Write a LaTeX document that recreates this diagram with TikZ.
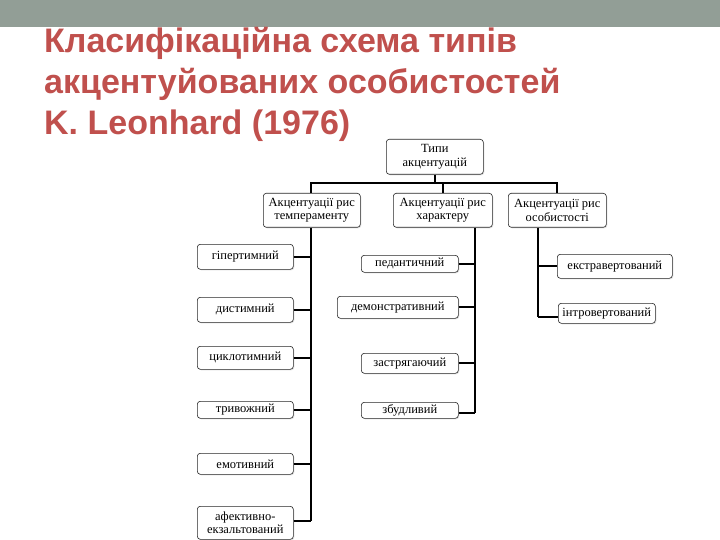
\documentclass[tikz,border=0pt]{standalone}
\usepackage{fontspec}
\usetikzlibrary{shadows}
\setmainfont{Liberation Serif}
\newfontfamily\titlefont{Liberation Sans}
\definecolor{band}{RGB}{146,158,150}
\definecolor{titlered}{RGB}{192,80,77}
\begin{document}
\begin{tikzpicture}[x=1pt,y=-1pt,
  box/.style={draw=black!85, line width=0.6pt, rounded corners=3pt, fill=white,
    drop shadow={shadow xshift=1pt, shadow yshift=-1pt, opacity=0.25},
    font=\fontsize{12.5}{13.5}\selectfont, inner sep=1pt, align=center, anchor=north west},
  conn/.style={line width=2.2pt, black},
  ttl/.style={anchor=base west, inner sep=0pt, text=titlered,
    font=\titlefont\bfseries\fontsize{34}{34}\selectfont}]
\useasboundingbox (0,0) rectangle (720,540);
\fill[band] (0,0) rectangle (720,27);
\node[ttl] (t1) at (44,53) {Класифікаційна схема типів};
\node[ttl] (t2) at (44,94) {акцентуйованих особистостей};
\node[ttl] (t3) at (44,135) {K. Leonhard (1976)};

% level 1
\node[box, minimum width=97pt, minimum height=35pt] (root) at (386,139) {Типи\\акцентуацій};
% level 2
\node[box, minimum width=97pt, minimum height=34pt] (temp) at (263,193) {Акцентуації рис\\темпераменту};
\node[box, minimum width=99pt, minimum height=34pt] (char) at (393,193) {Акцентуації рис\\характеру};
\node[box, minimum width=98pt, minimum height=34pt] (pers) at (508,193) {Акцентуації рис\\особистості};

% left column
\node[box, minimum width=96pt, minimum height=25pt] (l1) at (197,244) {гіпертимний};
\node[box, minimum width=96pt, minimum height=25pt] (l2) at (197,297) {дистимний};
\node[box, minimum width=96pt, minimum height=23pt] (l3) at (197,346) {циклотимний};
\node[box, minimum width=96pt, minimum height=17pt] (l4) at (197,401) {тривожний};
\node[box, minimum width=96pt, minimum height=21pt] (l5) at (197,453) {емотивний};
\node[box, minimum width=96pt, minimum height=33pt] (l6) at (197,506) {афективно-\\екзальтований};

% middle column
\node[box, minimum width=97pt, minimum height=17pt] (m1) at (361,255) {педантичний};
\node[box, minimum width=121pt, minimum height=22pt] (m2) at (337,296) {демонстративний};
\node[box, minimum width=97pt, minimum height=20pt] (m3) at (361,353) {застрягаючий};
\node[box, minimum width=97pt, minimum height=16pt] (m4) at (361,402) {збудливий};

% right column
\node[box, minimum width=115pt, minimum height=24pt] (r1) at (557,254) {екстравертований};
\node[box, minimum width=97pt, minimum height=20pt] (r2) at (558,303) {інтровертований};

% trunk coordinates
\coordinate (hl) at (311,183);
\coordinate (hr) at (557,183);
\coordinate (lt) at (311,0);
\coordinate (mt) at (475,0);
\coordinate (rt) at (538,0);

% top bus
\draw[conn] (root.south) -- (root.south |- hl);
\draw[conn, line cap=rect] (hl) -- (hr);
\draw[conn] (hl) -- (temp.north -| hl);
\draw[conn] (char.north) -- (char.north |- hl);
\draw[conn] (hr) -- (pers.north -| hr);

% left trunk
\draw[conn] (temp.south -| lt) -- ([yshift=2pt]l6.east -| lt);
\foreach \n in {l1,l2,l3,l4,l5} \draw[conn] (\n.east) -- (\n.east -| lt);
\draw[conn] ([yshift=2pt]l6.east) -- ([yshift=2pt]l6.east -| lt);

% middle trunk
\draw[conn] (char.south -| mt) -- ([yshift=-3pt]m4.east -| mt);
\foreach \n in {m1,m2,m3} \draw[conn] (\n.east) -- (\n.east -| mt);
\draw[conn] ([yshift=-3pt]m4.east) -- ([yshift=-3pt]m4.east -| mt);

% right trunk
\draw[conn] (pers.south -| rt) -- ([yshift=-4pt]r2.west -| rt);
\draw[conn] (r1.west) -- (r1.west -| rt);
\draw[conn] ([yshift=-4pt]r2.west) -- ([yshift=-4pt]r2.west -| rt);
\end{tikzpicture}
\end{document}
